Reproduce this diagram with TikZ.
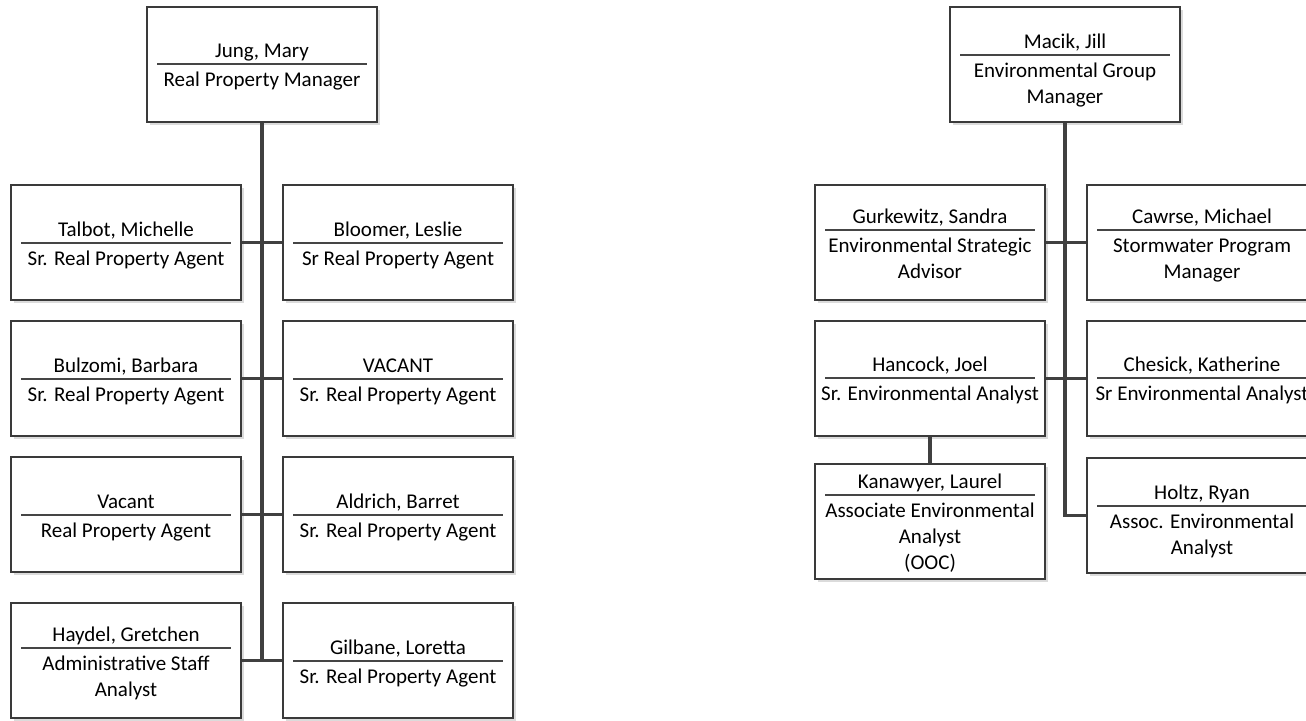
\documentclass[tikz,border=0pt]{standalone}
\usepackage{fontspec}
\setmainfont{Carlito}
\usetikzlibrary{shadows}
\definecolor{boxc}{HTML}{3A3A3A}
\definecolor{connc}{HTML}{404040}
\definecolor{sepc}{HTML}{454545}
\tikzset{
  obox/.style={draw=boxc, line width=1.5pt, fill=white, minimum width=230pt, minimum height=115pt, inner sep=0pt,
    drop shadow={shadow xshift=2.5pt, shadow yshift=-2.5pt, fill=black!14, opacity=1}},
  otxt/.style={font=\fontsize{21}{26}\selectfont, anchor=base, inner sep=0pt, text=black},
  sepl/.style={draw=sepc, line width=1.1pt},
  conn/.style={draw=connc, line width=3.3pt}
}
\newcommand\orgbox[6]{%
  \node[obox] (#1) at (#2+115,#3+57.5) {};
  \draw[sepl] (#2+10,#4) -- (#2+220,#4);
  \node[otxt] (#1-n) at (#2+115,#4-7) {#5};
  \foreach \t [count=\i] in {#6} {\node[otxt] (#1-t\i) at (#2+115,{#4+22+26*(\i-1)}) {\t};}
}
\begin{document}
\begin{tikzpicture}[x=1pt,y=-1pt]
\useasboundingbox (0,0) rectangle (1306,720);
\clip (0,0) rectangle (1306,720);
\fill[white] (0,0) rectangle (1306,720);
% left group
\orgbox{jung}{147}{7}{64}{Jung, Mary}{Real Property Manager}
\orgbox{talbot}{11}{185}{243}{Talbot, Michelle}{Sr. Real Property Agent}
\orgbox{bloomer}{283}{185}{243}{Bloomer, Leslie}{Sr Real Property Agent}
\orgbox{bulzomi}{11}{321}{379}{Bulzomi, Barbara}{Sr. Real Property Agent}
\orgbox{vacantA}{283}{321}{379}{VACANT}{Sr. Real Property Agent}
\orgbox{vacantB}{11}{457}{515}{Vacant}{Real Property Agent}
\orgbox{aldrich}{283}{457}{515}{Aldrich, Barret}{Sr. Real Property Agent}
\orgbox{haydel}{11}{603}{648}{Haydel, Gretchen}{Administrative Staff,Analyst}
\orgbox{gilbane}{283}{603}{661}{Gilbane, Loretta}{Sr. Real Property Agent}
% right group
\orgbox{macik}{950}{7}{55}{Macik, Jill}{Environmental Group,Manager}
\orgbox{gurk}{815}{185}{230}{Gurkewitz, Sandra}{Environmental Strategic,Advisor}
\orgbox{cawrse}{1087}{185}{230}{Cawrse, Michael}{Stormwater Program,Manager}
\orgbox{hancock}{815}{321}{378}{Hancock, Joel}{Sr. Environmental Analyst}
\orgbox{chesick}{1087}{321}{378}{Chesick, Katherine}{Sr Environmental Analyst}
\orgbox{kanawyer}{815}{464}{495}{Kanawyer, Laurel}{Associate Environmental,Analyst,(OOC)}
\orgbox{holtz}{1087}{458}{506}{Holtz, Ryan}{Assoc. Environmental,Analyst}
% connectors left
\draw[conn] (jung.south) -- (jung.south |- haydel.east);
\draw[conn] (talbot.east) -- (bloomer.west);
\draw[conn] (bulzomi.east) -- (vacantA.west);
\draw[conn] (vacantB.east) -- (aldrich.west);
\draw[conn] (haydel.east) -- (gilbane.west);
% connectors right
\draw[conn] (macik.south) -- (macik.south |- holtz.west) -- (holtz.west);
\draw[conn] (gurk.east) -- (cawrse.west);
\draw[conn] (hancock.east) -- (chesick.west);
\draw[conn] (hancock.south) -- (kanawyer.north);
\end{tikzpicture}
\end{document}
